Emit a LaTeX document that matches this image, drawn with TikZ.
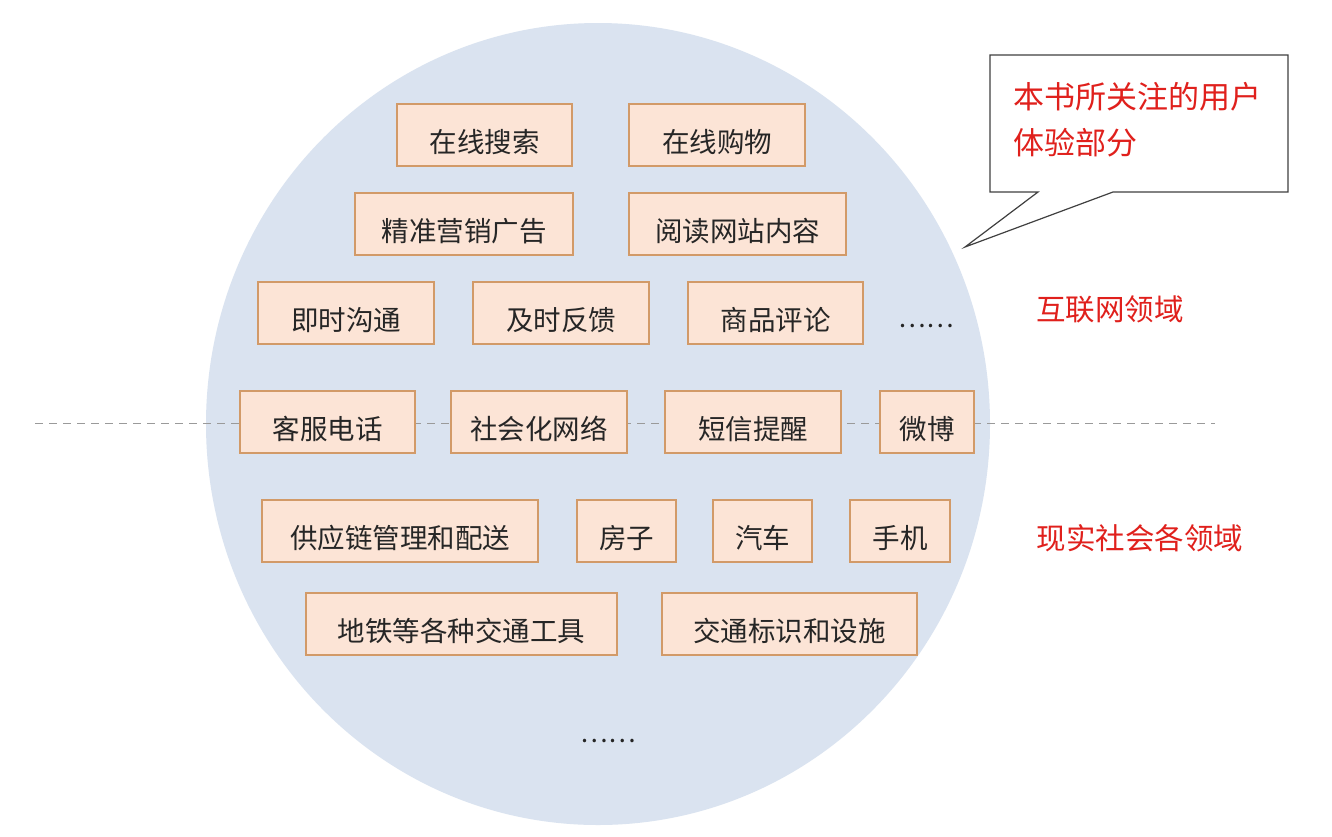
\documentclass[tikz,border=0pt]{standalone}
\usepackage{fontspec}
\newfontfamily\cjk{Noto Sans CJK SC}
\definecolor{circfill}{HTML}{DAE3F0}
\definecolor{boxfill}{HTML}{FCE4D6}
\definecolor{boxline}{HTML}{D29A68}
\definecolor{txt}{HTML}{262626}
\definecolor{redtxt}{HTML}{E0201C}
\definecolor{dashcol}{HTML}{9A9A9A}
\definecolor{callline}{HTML}{404040}
\tikzset{
  cell/.style={draw=boxline, fill=boxfill, line width=1.2pt, minimum height=62pt,
    inner sep=0pt, text height=34pt, text depth=0pt,
    font=\cjk\fontsize{27.5}{27.5}\selectfont, text=txt},
  redlabel/.style={font=\cjk\fontsize{29.5}{29.5}\selectfont, text=redtxt, inner sep=0pt},
  calltext/.style={font=\cjk\fontsize{31}{31}\selectfont, text=redtxt, inner sep=0pt, anchor=west},
  dots/.style={font=\cjk\fontsize{26}{26}\selectfont, text=txt, inner sep=0pt},
  sep/.style={draw=dashcol, line width=1pt, dash pattern=on 8pt off 6pt}
}
\begin{document}
\begin{tikzpicture}[x=1pt,y=-1pt]
\useasboundingbox (0,0) rectangle (1332,836);
\fill[white] (0,0) rectangle (1332,836);
% circle
\fill[circfill] (598,424) ellipse [x radius=392, y radius=401];
% dashed separator
\coordinate (L) at (35,423);
\coordinate (R) at (1215,423);
\draw[sep] (L) -- (R);
% boxes
\node[cell, minimum width=175pt] (b1) at (484.5,135) {在线搜索};
\node[cell, minimum width=176pt] (b2) at (717,135) {在线购物};
\node[cell, minimum width=218pt] (b3) at (464,224) {精准营销广告};
\node[cell, minimum width=217pt] (b4) at (737.5,224) {阅读网站内容};
\node[cell, minimum width=176pt] (b5) at (346,313) {即时沟通};
\node[cell, minimum width=176pt] (b6) at (561,313) {及时反馈};
\node[cell, minimum width=175pt] (b7) at (775.5,313) {商品评论};
\node[dots] (d1) at (926,326) {……};
\node[cell, minimum width=175pt] (b8) at (327.5,422) {客服电话};
\node[cell, minimum width=176pt] (b9) at (539,422) {社会化网络};
\node[cell, minimum width=176pt] (b10) at (753,422) {短信提醒};
\node[cell, minimum width=94pt] (b11) at (927,422) {微博};
\node[cell, minimum width=276pt] (b12) at (400,531) {供应链管理和配送};
\node[cell, minimum width=99pt] (b13) at (626.5,531) {房子};
\node[cell, minimum width=99pt] (b14) at (762.5,531) {汽车};
\node[cell, minimum width=100pt] (b15) at (900,531) {手机};
\node[cell, minimum width=311pt] (b16) at (461.5,624) {地铁等各种交通工具};
\node[cell, minimum width=255pt] (b17) at (789.5,624) {交通标识和设施};
\node[dots] (d2) at (608,741) {……};
% red labels
\node[redlabel] (l1) at (1110,309) {互联网领域};
\node[redlabel] (l2) at (1140,538) {现实社会各领域};
% callout
\draw[fill=white, draw=callline, line width=1.2pt, line join=miter]
  (990,55) -- (1288,55) -- (1288,192) -- (1113,192) -- (965,247) -- (1038,192) -- (990,192) -- cycle;
\node[calltext] (c1) at (1013,97) {本书所关注的用户};
\node[calltext] (c2) at (1013,143) {体验部分};
\end{tikzpicture}
\end{document}
